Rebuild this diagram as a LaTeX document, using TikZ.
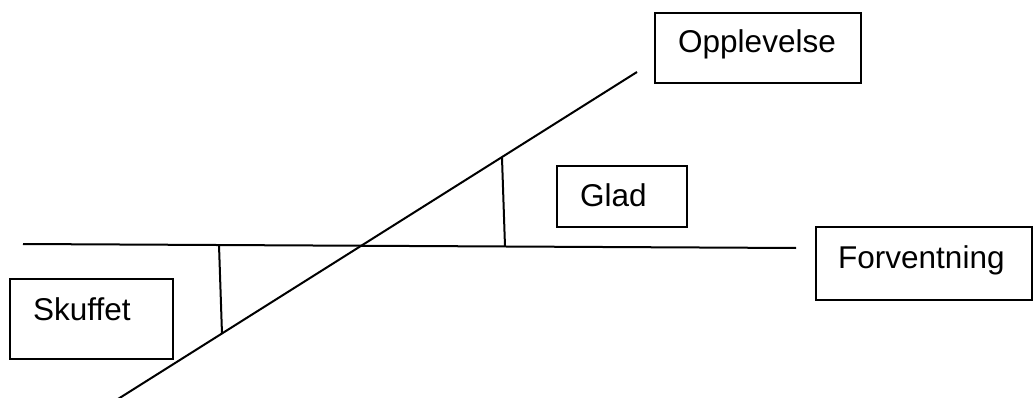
\documentclass[tikz,border=0pt]{standalone}
\usepackage{fontspec}
\setmainfont{Liberation Sans}
\begin{document}
\begin{tikzpicture}[x=1pt,y=-1pt,
  ln/.style={line width=2pt,black},
  box/.style={draw,line width=2pt,anchor=north west,inner sep=0pt},
  lbl/.style={anchor=base west,inner sep=0pt,font=\fontsize{31.5}{36}\selectfont}]
\useasboundingbox (0,0) rectangle (1033,398);
% boxes
\node[box,minimum width=206pt,minimum height=70pt] (oppbox) at (654,12) {};
\node[lbl] (opp) at (678,53) {Opplevelse};
\node[box,minimum width=130pt,minimum height=61pt] (gladbox) at (556,165) {};
\node[lbl] (glad) at (580,207) {Glad};
\node[box,minimum width=216pt,minimum height=73pt] (forbox) at (815,226) {};
\node[lbl] (for) at (838,268) {Forventning};
\node[box,minimum width=163pt,minimum height=80pt] (skbox) at (9,278) {};
\node[lbl] (sk) at (33,320) {Skuffet};
% lines
\coordinate (hA) at (23,244);
\coordinate (hB) at (796,248);
\coordinate (dA) at (118,399);
\coordinate (dB) at (637,72);
\coordinate (t1a) at (219,245);
\coordinate (t1b) at (222,334);
\coordinate (t2a) at (502,158);
\coordinate (t2b) at (505,246.5);
\draw[ln] (hA) -- (hB);
\draw[ln] (dA) -- (dB);
\draw[ln] (t1a) -- (t1b);
\draw[ln] (t2a) -- (t2b);
\end{tikzpicture}
\end{document}
